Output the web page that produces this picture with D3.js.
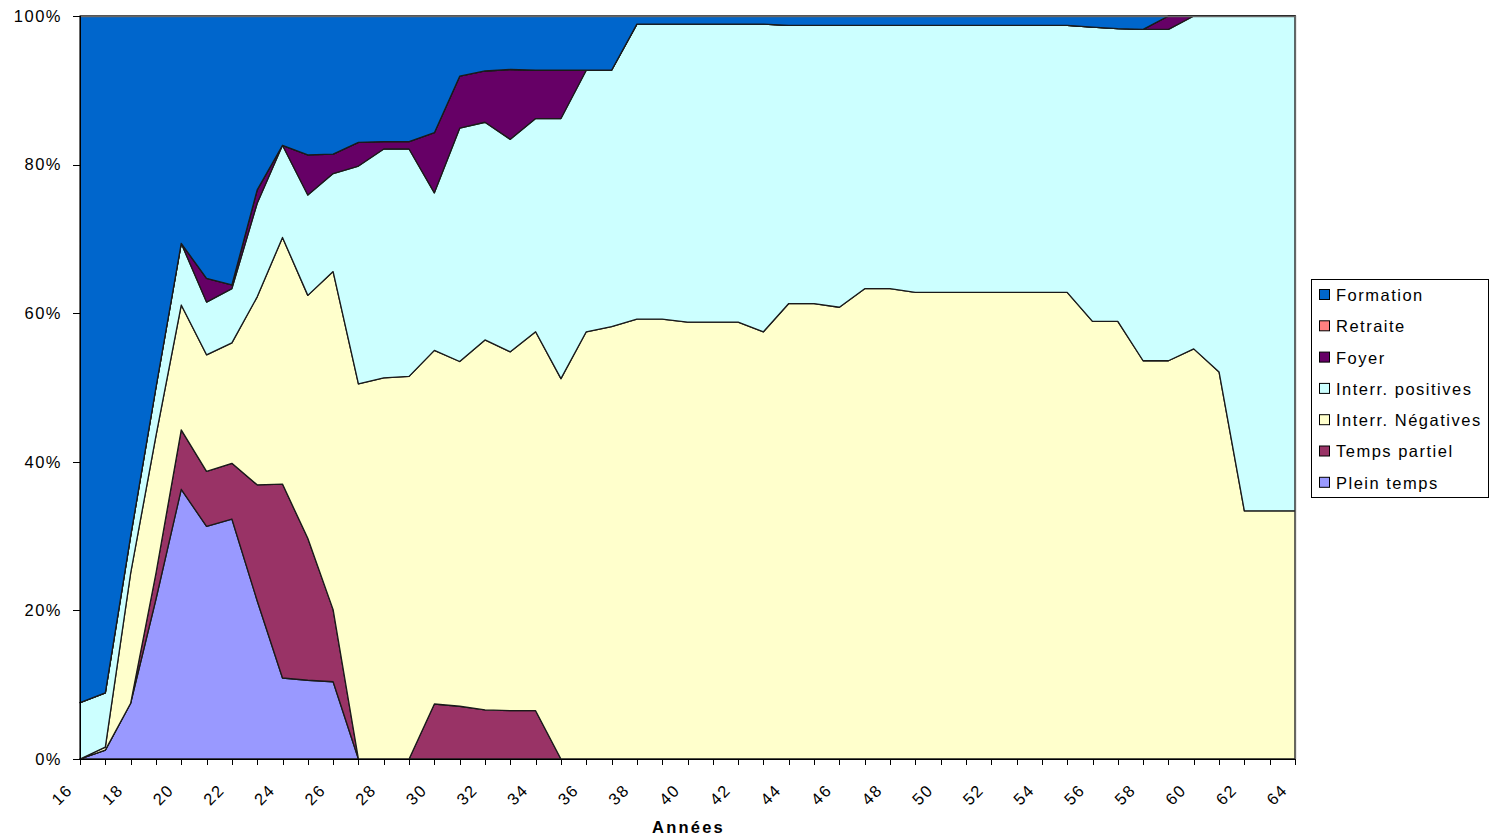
<!DOCTYPE html>
<html>
<head>
<meta charset="utf-8">
<title>Années</title>
<script src="https://cdnjs.cloudflare.com/ajax/libs/d3/7.8.5/d3.min.js"></script>
<style>
body { margin: 0; background: #fff; }
svg { display: block; font-family: "Liberation Sans", Arial, sans-serif; }
.axis text { font-size: 16.5px; letter-spacing: 1.5px; fill: #000; }
.axis path, .axis line { stroke: #000; shape-rendering: crispEdges; }
.legend text { font-size: 16.5px; letter-spacing: 1.5px; }
</style>
</head>
<body>
<svg id="chart"></svg>
<script>
// categories (age)
var ages = [16, 17, 18, 19, 20, 21, 22, 23, 24, 25,
  26, 27, 28, 29, 30, 31, 32, 33, 34, 35,
  36, 37, 38, 39, 40, 41, 42, 43, 44, 45,
  46, 47, 48, 49, 50, 51, 52, 53, 54, 55,
  56, 57, 58, 59, 60, 61, 62, 63, 64];

// percentages per series
var pleinTemps = [0, 1.2, 7.5, 21.5, 36.3, 31.3, 32.3, 21.3, 10.9, 10.6,
  10.4, 0, 0, 0, 0, 0, 0, 0, 0, 0,
  0, 0, 0, 0, 0, 0, 0, 0, 0, 0,
  0, 0, 0, 0, 0, 0, 0, 0, 0, 0,
  0, 0, 0, 0, 0, 0, 0, 0, 0];
var tempsPartiel = [0, 0, 0, 3.5, 8.0, 7.4, 7.5, 15.6, 26.1, 19.1,
  9.7, 0, 0, 0, 7.4, 7.1, 6.6, 6.5, 6.5, 0,
  0, 0, 0, 0, 0, 0, 0, 0, 0, 0,
  0, 0, 0, 0, 0, 0, 0, 0, 0, 0,
  0, 0, 0, 0, 0, 0, 0, 0, 0];
var interrNegatives = [0, 0.4, 17.5, 18.5, 16.8, 15.7, 16.2, 25.3, 33.2, 32.7,
  45.5, 50.5, 51.3, 51.5, 47.6, 46.4, 49.8, 48.3, 51.0, 51.2,
  57.5, 58.2, 59.2, 59.2, 58.8, 58.8, 58.8, 57.5, 61.3, 61.3,
  60.8, 63.3, 63.3, 62.8, 62.8, 62.8, 62.8, 62.8, 62.8, 62.8,
  58.9, 58.9, 53.6, 53.6, 55.2, 52.1, 33.4, 33.4, 33.4];
var interrPositives = [7.6, 7.3, 5.0, 6.5, 8.3, 7.1, 7.3, 12.6, 12.4, 13.5,
  13.2, 29.3, 30.8, 30.6, 21.2, 31.4, 29.3, 28.6, 28.7, 35.0,
  35.2, 34.5, 39.7, 39.7, 40.1, 40.1, 40.1, 41.4, 37.45, 37.45,
  37.95, 35.45, 35.45, 35.95, 35.95, 35.95, 35.95, 35.95, 35.95, 35.95,
  39.6, 39.4, 44.6, 44.6, 44.8, 47.9, 66.6, 66.6, 66.6];
var foyer = [0, 0, 0, 0, 0, 3.2, 0.5, 1.8, 0, 5.4,
  2.6, 3.2, 1.0, 1.0, 8.1, 7.0, 6.9, 9.4, 6.5, 6.5,
  0, 0, 0, 0, 0, 0, 0, 0, 0, 0,
  0, 0, 0, 0, 0, 0, 0, 0, 0, 0,
  0, 0, 0, 1.8, 0, 0, 0, 0, 0];
var retraite = [0, 0, 0, 0, 0, 0, 0, 0, 0, 0,
  0, 0, 0, 0, 0, 0, 0, 0, 0, 0,
  0, 0, 0, 0, 0, 0, 0, 0, 0, 0,
  0, 0, 0, 0, 0, 0, 0, 0, 0, 0,
  0, 0, 0, 0, 0, 0, 0, 0, 0];
var formation = [92.4, 91.1, 70.0, 50.0, 30.6, 35.3, 36.2, 23.4, 17.4, 18.7,
  18.6, 17.0, 16.9, 16.9, 15.7, 8.1, 7.4, 7.2, 7.3, 7.3,
  7.3, 7.3, 1.1, 1.1, 1.1, 1.1, 1.1, 1.1, 1.25, 1.25,
  1.25, 1.25, 1.25, 1.25, 1.25, 1.25, 1.25, 1.25, 1.25, 1.25,
  1.5, 1.7, 1.8, 0, 0, 0, 0, 0, 0];

var yTicks = [0, 0.2, 0.4, 0.6, 0.8, 1];

// stacking order, bottom to top
var series = [
  { name: "Plein temps", values: pleinTemps, color: "#9999ff" },
  { name: "Temps partiel", values: tempsPartiel, color: "#993366" },
  { name: "Interr. Négatives", values: interrNegatives, color: "#ffffcc" },
  { name: "Interr. positives", values: interrPositives, color: "#ccffff" },
  { name: "Foyer", values: foyer, color: "#660066" },
  { name: "Retraite", values: retraite, color: "#ff8080" },
  { name: "Formation", values: formation, color: "#0066cc" }
];

var margin = { top: 16, right: 196, bottom: 80, left: 80 };
var W = 1491, H = 839;
var width = W - margin.left - margin.right;
var height = H - margin.top - margin.bottom;

var svg = d3.select("#chart").attr("width", W).attr("height", H);
var g = svg.append("g")
  .attr("transform", "translate(" + margin.left + "," + margin.top + ")");

var rows = ages.map(function(a, i) {
  var r = { age: a };
  series.forEach(function(s) { r[s.name] = s.values[i]; });
  return r;
});

var stack = d3.stack()
  .keys(series.map(function(s) { return s.name; }))
  .offset(d3.stackOffsetExpand);
var layers = stack(rows);

var x = d3.scalePoint().domain(ages).range([0, width]);
var y = d3.scaleLinear().domain([0, 1]).range([height, 0]);

var area = d3.area()
  .x(function(d) { return x(d.data.age); })
  .y0(function(d) { return y(d[0]); })
  .y1(function(d) { return y(d[1]); });

g.selectAll(".layer")
  .data(layers)
  .enter().append("path")
  .attr("class", "layer")
  .attr("d", area)
  .attr("fill", function(d, i) { return series[i].color; })
  .attr("stroke", "#1a1a1a")
  .attr("stroke-width", 1.3)
  .attr("stroke-linejoin", "round");

// plot area frame (top and right)
g.append("path")
  .attr("d", "M0,0.5H" + (width + 0.5) + "V" + height)
  .attr("fill", "none")
  .attr("stroke", "#666")
  .attr("stroke-width", 1.3);

// y axis
var yAxis = g.append("g")
  .attr("class", "axis")
  .call(d3.axisLeft(y)
    .tickValues(yTicks)
    .tickSize(7)
    .tickPadding(11)
    .tickFormat(d3.format(".0%")));
yAxis.select(".domain").attr("d", "M0.5,0V" + height);

// x axis, a tick for each year, a label every two years
var xAxis = g.append("g")
  .attr("class", "axis")
  .attr("transform", "translate(0," + height + ")")
  .call(d3.axisBottom(x)
    .tickSize(6)
    .tickFormat(function(d) { return d % 2 === 0 ? d : ""; }));
xAxis.select(".domain").attr("d", "M0," + 0.5 + "H" + width);
xAxis.selectAll("text")
  .attr("text-anchor", "end")
  .attr("y", 0)
  .attr("dy", "0.35em")
  .attr("transform", "translate(-11,28) rotate(-45)");

g.append("text")
  .attr("x", width / 2 + 1)
  .attr("y", height + 74)
  .attr("text-anchor", "middle")
  .style("font-size", "16.5px")
  .style("font-weight", "bold")
  .style("letter-spacing", "2.2px")
  .text("Années");

// legend
var legend = svg.append("g")
  .attr("class", "legend")
  .attr("transform", "translate(1311,279)");
legend.append("rect")
  .attr("x", 0.5).attr("y", 0.5)
  .attr("width", 177).attr("height", 218)
  .attr("fill", "#fff")
  .attr("stroke", "#000");

var legendItems = series.slice().reverse();
var item = legend.selectAll(".item")
  .data(legendItems)
  .enter().append("g")
  .attr("class", "item")
  .attr("transform", function(d, i) { return "translate(0," + (16 + i * 31.3) + ")"; });
item.append("rect")
  .attr("x", 8.5).attr("y", -5.5)
  .attr("width", 10).attr("height", 10)
  .attr("fill", function(d) { return d.color; })
  .attr("stroke", "#000");
item.append("text")
  .attr("x", 25)
  .attr("dy", "0.36em")
  .text(function(d) { return d.name; });
</script>
</body>
</html>
